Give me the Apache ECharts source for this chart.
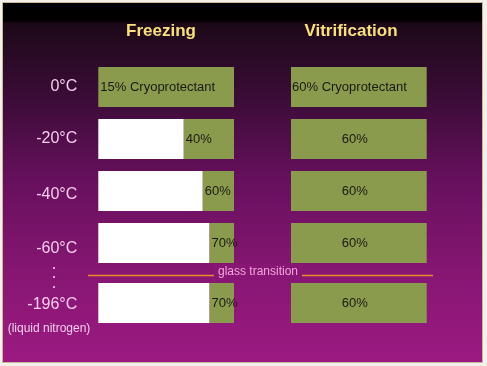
<!DOCTYPE html>
<html>
<head>
<meta charset="utf-8">
<script src="https://cdn.jsdelivr.net/npm/echarts@6/dist/echarts.min.js"></script>
<style>
html,body{margin:0;padding:0;background:#f4f0ec;}
#c{width:487px;height:366px;}
</style>
</head>
<body>
<div id="c"></div>
<script>
// ---- data ----
var topRows = ['0°C', '-20°C', '-40°C', '-60°C'];
var bottomRows = ['-196°C'];
// share of the freezing bar that is ice (white) (%)
var freezeIceTop = [0, 63, 77, 82];
var freezeIceBottom = [82];
var freezeLabelsTop = ['15% Cryoprotectant', '40%', '60%', '70%'];
var freezeLabelsBottom = ['70%'];
var vitriValueTop = [100, 100, 100, 100];
var vitriValueBottom = [100];
var vitriLabelsTop = ['60% Cryoprotectant', '60%', '60%', '60%'];
var vitriLabelsBottom = ['60%'];
var columnTitles = ['Freezing', 'Vitrification'];

var GREEN = '#8b9b4e';
var TXT = '#1a1a14';
var LBL = '#f6cdee';
var FONT = 'Liberation Sans, Arial, sans-serif';

var chart = echarts.init(document.getElementById('c'), null, {renderer: 'canvas'});

function greenData(ice, labels) {
  return ice.map(function (v, i) {
    return {
      value: 100 - v,
      label: {
        show: true, formatter: labels[i], position: 'insideLeft', distance: 2,
        color: TXT, fontSize: 13, fontFamily: FONT
      }
    };
  });
}
function vitriData(vals, labels) {
  return vals.map(function (v, i) {
    var long = labels[i].length > 6;
    return {
      value: v,
      label: {
        show: true, formatter: labels[i],
        position: long ? 'insideLeft' : 'inside', distance: 1,
        offset: long ? [0, 0] : [-4, 0],
        color: TXT, fontSize: 13, fontFamily: FONT
      }
    };
  });
}

var gridL1 = 98.3, gridL2 = 291, gridW = 135.7;
var grids = [
  {left: gridL1, top: 61, width: gridW, height: 208},
  {left: gridL2, top: 61, width: gridW, height: 208},
  {left: gridL1, top: 277, width: gridW, height: 52},
  {left: gridL2, top: 277, width: gridW, height: 52}
];
var xAxes = grids.map(function (g, i) {
  return {gridIndex: i, type: 'value', min: 0, max: 100, show: false};
});
// small vertical nudges of the row labels, as in the original slide
var labelShift = {'0°C': 0, '-20°C': 0, '-40°C': 8, '-60°C': 12, '-196°C': 4};
var rich = {};
Object.keys(labelShift).forEach(function (k, i) {
  rich['s' + i] = {color: LBL, fontSize: 16, fontFamily: FONT, padding: [labelShift[k], 0, 0, 0]};
});
function yAx(i, cats, showLabel) {
  return {
    gridIndex: i, type: 'category', data: cats, inverse: true,
    axisLine: {show: false}, axisTick: {show: false}, splitLine: {show: false},
    axisLabel: {
      show: showLabel, margin: 21, color: LBL, fontSize: 16, fontFamily: FONT,
      formatter: function (v) {
        var idx = Object.keys(labelShift).indexOf(v);
        return '{s' + idx + '|' + v + '}';
      },
      rich: rich
    }
  };
}
var yAxes = [yAx(0, topRows, true), yAx(1, topRows, false), yAx(2, bottomRows, true), yAx(3, bottomRows, false)];

function barSeries(idx, data, color, stack) {
  return {
    type: 'bar', xAxisIndex: idx, yAxisIndex: idx, stack: stack, data: data,
    barCategoryGap: '23%', itemStyle: {color: color}, silent: true, animation: false
  };
}

var series = [
  barSeries(0, freezeIceTop, '#ffffff', 'f1'),
  barSeries(0, greenData(freezeIceTop, freezeLabelsTop), GREEN, 'f1'),
  barSeries(1, vitriData(vitriValueTop, vitriLabelsTop), GREEN, 'v1'),
  barSeries(2, freezeIceBottom, '#ffffff', 'f2'),
  barSeries(2, greenData(freezeIceBottom, freezeLabelsBottom), GREEN, 'f2'),
  barSeries(3, vitriData(vitriValueBottom, vitriLabelsBottom), GREEN, 'v2')
];

var bg = {
  type: 'rect', z: -10, silent: true,
  shape: {x: 2.5, y: 2.5, width: 480, height: 360},
  style: {
    fill: new echarts.graphic.LinearGradient(0, 0, 0, 1, [
      {offset: 0, color: '#000000'},
      {offset: 0.053, color: '#020002'},
      {offset: 0.058, color: '#1c0918'},
      {offset: 0.27, color: '#3c0c38'},
      {offset: 0.50, color: '#68105e'},
      {offset: 0.745, color: '#861672'},
      {offset: 1, color: '#9c1a82'}
    ]),
    stroke: '#c8b894', lineWidth: 1
  }
};

var titleX = [161, 351];
var titles = columnTitles.map(function (t, i) {
  return {
    type: 'text', silent: true, z: 6, x: titleX[i], y: 31,
    style: {
      text: t, fill: '#f8e07e', fontSize: 17, fontWeight: 'bold', fontFamily: FONT,
      align: 'center', verticalAlign: 'middle'
    }
  };
});

chart.setOption({
  animation: false,
  grid: grids,
  xAxis: xAxes,
  yAxis: yAxes,
  series: series,
  graphic: [bg].concat(titles, [
    {
      type: 'line', silent: true, z: 5,
      shape: {x1: 88, y1: 275.5, x2: 433, y2: 275.5},
      style: {stroke: '#ec8c2a', lineWidth: 1.4}
    },
    {
      type: 'text', silent: true, z: 6, x: 258, y: 272,
      style: {
        text: 'glass transition', fill: '#f4a6da', fontSize: 12, fontFamily: FONT,
        align: 'center', verticalAlign: 'middle',
        backgroundColor: '#881674', padding: [2, 4]
      }
    },
    {
      type: 'text', silent: true, z: 6, x: 54, y: 277.5,
      style: {
        text: '•\n•\n•', fill: LBL, fontSize: 7, lineHeight: 9.5, fontFamily: FONT,
        align: 'center', verticalAlign: 'middle'
      }
    },
    {
      type: 'text', silent: true, z: 6, x: 49, y: 329,
      style: {text: '(liquid nitrogen)', fill: LBL, fontSize: 12, fontFamily: FONT, align: 'center', verticalAlign: 'middle'}
    }
  ])
});
</script>
</body>
</html>
